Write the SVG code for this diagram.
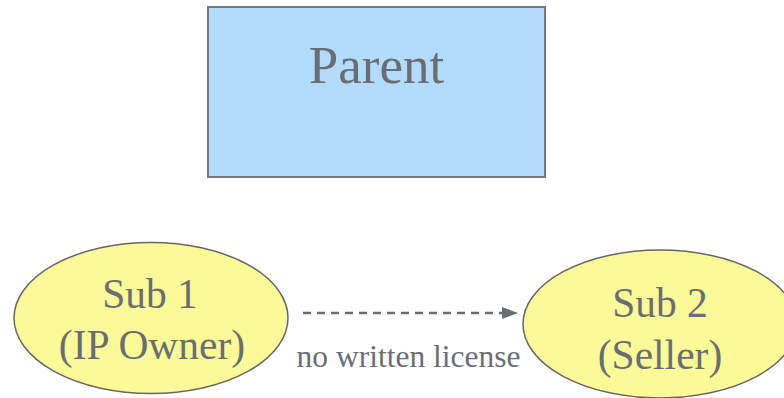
<svg xmlns="http://www.w3.org/2000/svg" width="784" height="398" viewBox="0 0 784 398">
<style>
.t{font-family:"Liberation Serif","Times New Roman",serif;fill:#6a6e72;text-anchor:middle}
.sub{fill:#fcfa98;stroke:#666;stroke-width:1.5}
</style>
<rect width="784" height="398" fill="#fff"/>
<g id="parent">
<rect x="208" y="7" width="337" height="170" fill="#b3dbfb" stroke="#777" stroke-width="2"/>
<text class="t" x="376.5" y="83" font-size="53">Parent</text>
</g>
<g id="sub1">
<ellipse class="sub" cx="151" cy="318" rx="137" ry="75.5"/>
<text class="t" x="150" y="308" font-size="41.5">Sub 1</text>
<text class="t" x="152" y="359" font-size="41.5">(IP Owner)</text>
</g>
<g id="sub2">
<ellipse class="sub" cx="660" cy="324" rx="137" ry="74"/>
<text class="t" x="660" y="317" font-size="41.5">Sub 2</text>
<text class="t" x="660" y="369" font-size="41.5">(Seller)</text>
</g>
<g id="connectors">
<line x1="303" y1="313" x2="503" y2="313" stroke="#6a6e72" stroke-width="2.5" stroke-dasharray="8,6"/>
<path d="M502,307 L518,313 L502,319 Z" fill="#6a6e72"/>
<text class="t" x="408.5" y="367" font-size="31.5">no written license</text>
</g>
</svg>
